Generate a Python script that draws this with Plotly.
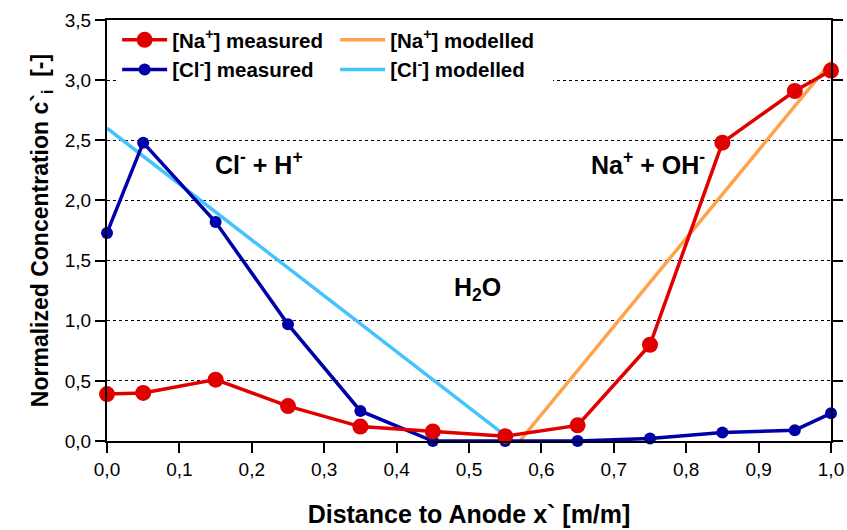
import plotly.graph_objects as go

x_meas = [0.0, 0.05, 0.15, 0.25, 0.35, 0.45, 0.55, 0.65, 0.75, 0.85, 0.95, 1.0]
na_meas = [0.39, 0.40, 0.51, 0.29, 0.12, 0.08, 0.04, 0.13, 0.80, 2.48, 2.91, 3.08]
cl_meas = [1.73, 2.48, 1.82, 0.97, 0.25, 0.0, 0.0, 0.0, 0.02, 0.07, 0.09, 0.23]
x_na_mod = [0.57, 1.0]
na_mod = [0.0, 3.15]
x_cl_mod = [0.0, 0.56]
cl_mod = [2.60, 0.0]

RED = "#E00000"
BLUE = "#0000A8"
ORANGE = "#FFA24A"
LBLUE = "#45C3FF"
FONT = "Liberation Sans, Arial, sans-serif"

fig = go.Figure()
fig.add_trace(go.Scatter(x=x_cl_mod, y=cl_mod, mode="lines", name="<b>[Cl<sup>-</sup>] modelled</b>",
                         line=dict(color=LBLUE, width=3.5), legendgroup="mod", legendrank=4))
fig.add_trace(go.Scatter(x=x_na_mod, y=na_mod, mode="lines", name="<b>[Na<sup>+</sup>] modelled</b>",
                         line=dict(color=ORANGE, width=3.5), legendgroup="mod", legendrank=3))
fig.add_trace(go.Scatter(x=x_meas, y=cl_meas, mode="lines+markers", name="<b>[Cl<sup>-</sup>] measured</b>",
                         line=dict(color=BLUE, width=3.5), marker=dict(color=BLUE, size=12),
                         legendgroup="meas", legendrank=2, cliponaxis=False))
fig.add_trace(go.Scatter(x=x_meas, y=na_meas, mode="lines+markers", name="<b>[Na<sup>+</sup>] measured</b>",
                         line=dict(color=RED, width=3.5), marker=dict(color=RED, size=16),
                         legendgroup="meas", legendrank=1, cliponaxis=False))

ann_font = dict(family=FONT, size=25, color="black")
for txt, ax, ay in [("<b>Cl<sup>-</sup> + H<sup>+</sup></b>", 0.21, 2.31),
                    ("<b>Na<sup>+</sup> + OH<sup>-</sup></b>", 0.747, 2.31),
                    ("<b>H<sub>2</sub>O</b>", 0.512, 1.26)]:
    fig.add_annotation(x=ax, y=ay, text=txt, showarrow=False, font=ann_font)

fig.update_layout(
    width=847, height=530,
    margin=dict(l=107, r=16, t=20, b=89),
    plot_bgcolor="white", paper_bgcolor="white",
    separators=",.",
    font=dict(family=FONT, size=19, color="black"),
    showlegend=True,
    legend=dict(orientation="h", traceorder="grouped", x=0.014, y=1.0, xanchor="left", yanchor="top",
                bgcolor="white", font=dict(family=FONT, size=20.5, color="black"),
                tracegroupgap=0, itemwidth=45, entrywidth=158, entrywidthmode="pixels"),
    xaxis=dict(range=[0, 1.0], dtick=0.1, tickformat=".1f", showgrid=False, automargin=False,
               showline=True, linecolor="black", linewidth=2, mirror=True,
               ticks="outside", ticklen=10, tickwidth=2, tickcolor="black",
               tickfont=dict(size=19), zeroline=False,
               title=dict(text="<b>Distance to Anode x` [m/m]</b>", font=dict(size=25), standoff=27)),
    yaxis=dict(range=[0, 3.5], dtick=0.5, tickformat=".1f", showgrid=True, automargin=False,
               gridcolor="black", gridwidth=1, griddash="dot",
               showline=True, linecolor="black", linewidth=2, mirror="allticks",
               ticks="outside", ticklen=10, tickwidth=2, tickcolor="black",
               tickfont=dict(size=19), zeroline=False,
               title=dict(text="<b>Normalized Concentration c`<sub>i</sub>  [-]</b>", font=dict(size=23), standoff=10)),
)

fig.write_html("out.html")
